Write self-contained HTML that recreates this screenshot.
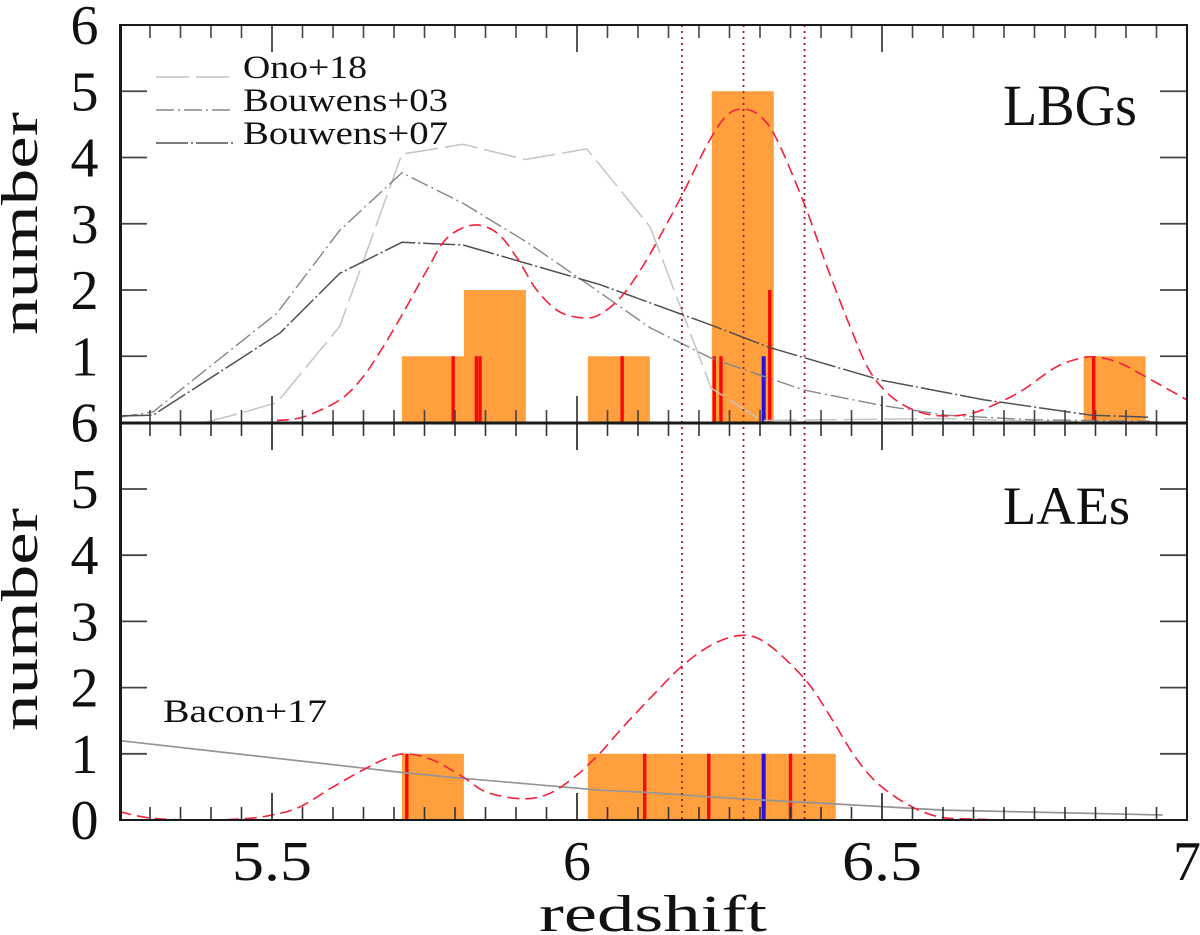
<!DOCTYPE html>
<html>
<head>
<meta charset="utf-8">
<title>Redshift histograms</title>
<style>
html,body{margin:0;padding:0;background:#fff}
svg{display:block}
text{font-family:"Liberation Serif",serif;fill:#111}
</style>
</head>
<body>
<svg id="chart" width="1200" height="935" viewBox="0 0 1200 935" xmlns="http://www.w3.org/2000/svg"></svg>
<script>
// --- data ---
const binStart = 5.713;
const binWidth = 0.1016;
const lbgCounts = [1,2,0,1,0,5,0,0,0,0,0,1];
const laeCounts = [1,0,0,1,1,1,1];
const lbgRedZ = [5.797,5.835,5.841,6.074,6.225,6.236,6.316,6.847];
const lbgRedN = [1,1,1,1,1,1,2,1];
const lbgBlueZ = [6.306];
const lbgBlueN = [1];
const laeRedZ = [5.721,6.111,6.216,6.35];
const laeRedN = [1,1,1,1];
const laeBlueZ = [6.306];
const laeBlueN = [1];
const dottedZ = [6.172,6.273,6.373];

const lbgKdeZ = [5.508,5.551,5.611,5.649,5.682,5.715,5.754,5.787,5.83,5.869,5.902,5.934,5.972,6.016,6.044,6.075,6.107,6.139,6.174,6.215,6.246,6.274,6.302,6.328,6.372,6.41,6.448,6.479,6.516,6.561,6.605,6.649,6.687,6.731,6.782,6.82,6.851,6.889,6.933,7.0];
const lbgKdeN = [0.03,0.083,0.34,0.687,1.14,1.653,2.30,2.785,2.98,2.86,2.48,2.0,1.668,1.577,1.668,1.925,2.347,2.86,3.464,4.219,4.64,4.73,4.61,4.264,3.313,2.347,1.44,0.79,0.385,0.158,0.098,0.143,0.28,0.49,0.82,0.958,0.99,0.9,0.687,0.34];

const laeKdeZ = [5.25,5.3,5.37,5.448,5.5,5.546,5.6,5.649,5.689,5.721,5.764,5.813,5.852,5.911,5.956,6.0,6.026,6.038,6.075,6.12,6.174,6.226,6.274,6.315,6.375,6.416,6.454,6.492,6.543,6.592,6.649,6.731,6.99];
const laeKdeN = [0.125,0.03,0,0.015,0.075,0.2,0.5,0.755,0.935,1.0,0.905,0.65,0.42,0.32,0.405,0.68,0.905,1.01,1.40,1.84,2.34,2.67,2.79,2.64,2.11,1.55,0.98,0.56,0.23,0.05,0.015,0,0];

const onoZ = [5.39,5.448,5.508,5.611,5.713,5.813,5.915,6.016,6.12,6.22,6.302,6.5,6.6,6.75,6.95];
const onoN = [0,0.14,0.3,1.45,4.05,4.2,3.97,4.13,2.95,0.52,0.03,0.05,0.06,0.02,0.01];

const bouwens03Z = [5.25,5.305,5.508,5.611,5.713,5.813,5.918,6.016,6.12,6.22,6.308,6.372,6.498,6.605,6.749,6.939];
const bouwens03N = [0.08,0.16,1.65,2.9,3.77,3.31,2.72,2.1,1.43,0.97,0.69,0.49,0.26,0.11,0.04,0.02];

const bouwens07Z = [5.25,5.305,5.513,5.611,5.713,5.813,5.918,6.038,6.22,6.316,6.498,6.669,6.844,6.936];
const bouwens07N = [0.1,0.11,1.35,2.25,2.72,2.68,2.4,2.08,1.47,1.13,0.64,0.34,0.11,0.08];

const baconZ = [5.25,5.721,5.813,6.038,6.111,6.216,6.306,6.428,6.6,6.96];
const baconN = [1.2,0.71,0.63,0.45,0.42,0.35,0.3,0.24,0.15,0.075];

const xTickLabels = ["5.5","6","6.5","7"];
const yTicksTop = ["6","5","4","3","2","1","6"];
const yTicksBottom = ["5","4","3","2","1","0"];

// --- axes ---
const NS = "http://www.w3.org/2000/svg";
const svg = document.getElementById("chart");
const X = z => 272 + (z - 5.5) * 610;
const Ytop = n => 422.5 - n * 66.25;
const Ybot = n => 820 - n * 66.2;

function mk(tag, attrs, text) {
  const e = document.createElementNS(NS, tag);
  for (const k in attrs) e.setAttribute(k, attrs[k]);
  if (text !== undefined) e.textContent = text;
  svg.appendChild(e);
  return e;
}
function smoothPath(pts) {
  let d = "M" + pts[0][0].toFixed(1) + " " + pts[0][1].toFixed(1);
  for (let i = 0; i < pts.length - 1; i++) {
    const p0 = pts[Math.max(0, i - 1)], p1 = pts[i], p2 = pts[i + 1], p3 = pts[Math.min(pts.length - 1, i + 2)];
    const c1x = p1[0] + (p2[0] - p0[0]) / 6, c1y = p1[1] + (p2[1] - p0[1]) / 6;
    const c2x = p2[0] - (p3[0] - p1[0]) / 6, c2y = p2[1] - (p3[1] - p1[1]) / 6;
    d += "C" + c1x.toFixed(1) + " " + c1y.toFixed(1) + " " + c2x.toFixed(1) + " " + c2y.toFixed(1) + " " + p2[0].toFixed(1) + " " + p2[1].toFixed(1);
  }
  return d;
}
function linePath(pts) {
  return "M" + pts.map(p => p[0].toFixed(1) + " " + p[1].toFixed(1)).join("L");
}
function toPts(zs, ns, Y) { return zs.map((z, i) => [X(z), Y(ns[i])]); }

// histogram bars
function drawBars(counts, Y, name) {
  counts.forEach((c, i) => {
    if (!c) return;
    const z0 = binStart + i * binWidth;
    const r = mk("rect", {x: X(z0), y: Y(c), width: binWidth * 610, height: Y(0) - Y(c), fill: "#ff9f3e"});
    
    
  });
}
drawBars(lbgCounts, Ytop, "lbg-histogram-bar");
drawBars(laeCounts, Ybot, "lae-histogram-bar");

// individual object markers
function drawMarks(zs, ns, Y, color, w, name) {
  zs.forEach((z, i) => {
    const l = mk("line", {x1: X(z), x2: X(z), y1: Y(0), y2: Y(ns[i]), stroke: color, "stroke-width": w});
    
    
  });
}
drawMarks(lbgRedZ, lbgRedN, Ytop, "#f80808", 3.4, "lbg-redshift-marker");
drawMarks(lbgBlueZ, lbgBlueN, Ytop, "#2a10d8", 4, "lbg-blue-marker");
drawMarks(laeRedZ, laeRedN, Ybot, "#f80808", 3.4, "lae-redshift-marker");
drawMarks(laeBlueZ, laeBlueN, Ybot, "#2a10d8", 4, "lae-blue-marker");

// model curves
const ono = mk("path", {d: linePath(toPts(onoZ, onoN, Ytop)), fill: "none", stroke: "#c4c4c4", "stroke-width": 1.5, "stroke-dasharray": "33 7"});


const b03 = mk("path", {d: linePath(toPts(bouwens03Z, bouwens03N, Ytop)), fill: "none", stroke: "#868686", "stroke-width": 1.4, "stroke-dasharray": "18 4 2 4"});


const b07 = mk("path", {d: linePath(toPts(bouwens07Z, bouwens07N, Ytop)), fill: "none", stroke: "#505050", "stroke-width": 1.5, "stroke-dasharray": "32 3 2 3"});


const bacon = mk("path", {d: linePath(toPts(baconZ, baconN, Ybot)), fill: "none", stroke: "#949494", "stroke-width": 1.7});


const kde1 = mk("path", {d: smoothPath(toPts(lbgKdeZ, lbgKdeN, Ytop)), fill: "none", stroke: "#f5203a", "stroke-width": 1.6, "stroke-dasharray": "12 6"});


const kde2 = mk("path", {d: smoothPath(toPts(laeKdeZ, laeKdeN, Ybot)), fill: "none", stroke: "#f5203a", "stroke-width": 1.6, "stroke-dasharray": "12 6"});



// vertical dotted lines
dottedZ.forEach(z => {
  const l = mk("line", {x1: X(z), x2: X(z), y1: 25, y2: 820, stroke: "#a5182e", "stroke-width": 1.8, "stroke-dasharray": "2 4"});
  
  
});

// x ticks
function tick(x1, y1, x2, y2, w, color) {
  const t = mk("line", {x1, y1, x2, y2, stroke: color, "stroke-width": w});
  
  
}
for (let i = 1; i < 35; i++) {
  const z = 5.25 + i * 0.05;
  const major = i % 10 === 5;
  const len = major ? 27 : 13;
  const x = X(z);
  tick(x, 25, x, 25 + len, major ? 1.8 : 1.6, "#444");
  tick(x, 423, x, 423 - len, major ? 1.8 : 1.6, "#444");
  tick(x, 423, x, 423 + len, major ? 1.8 : 1.6, "#333");
  tick(x, 820, x, 820 - len, major ? 1.8 : 1.6, "#333");
}
// y ticks
for (let n = 1; n <= 5; n++) {
  tick(120, Ytop(n), 147, Ytop(n), 1.8, "#444");
  tick(1160, Ytop(n), 1187, Ytop(n), 1.8, "#444");
  tick(120, Ybot(n), 147, Ybot(n), 1.8, "#444");
  tick(1160, Ybot(n), 1187, Ybot(n), 1.8, "#444");
}

// frame
function frame(x1, y1, x2, y2, w, name) {
  const f = mk("line", {x1, y1, x2, y2, stroke: "#1a1a1a", "stroke-width": w});
  
  
}
frame(120.5, 24, 120.5, 821, 3, "left-axis");
frame(1187, 24, 1187, 821, 2, "right-axis");
frame(119, 25, 1188, 25, 2, "top-axis");
frame(119, 423, 1188, 423, 3, "panel-divider-axis");
frame(119, 820, 1188, 820, 2, "bottom-axis");

// tick labels
yTicksTop.forEach((s, i) => {
  const t = mk("text", {x: 98.5, y: Ytop(6 - i) + 19, "text-anchor": "end", "font-size": 56}, s);
  
  
});
yTicksBottom.forEach((s, i) => {
  const t = mk("text", {x: 98.5, y: Ybot(5 - i) + 19, "text-anchor": "end", "font-size": 56}, s);
  
  
});
xTickLabels.forEach(s => {
  const v = parseFloat(s);
  const w = s.length > 1 ? 80 : 28;
  const t = mk("text", {x: X(v) - w / 2 + (s === "7" ? 0 : 0), y: 880, "font-size": 56, textLength: w, lengthAdjust: "spacingAndGlyphs"}, s);
  
  
});

// axis titles
const xTitle = mk("text", {x: 539, y: 931, "font-size": 52, textLength: 228, lengthAdjust: "spacingAndGlyphs"}, "redshift");


const yTitle1 = mk("text", {transform: "translate(37,335) rotate(-90)", "font-size": 52, textLength: 223, lengthAdjust: "spacingAndGlyphs"}, "number");


const yTitle2 = mk("text", {transform: "translate(37,731) rotate(-90)", "font-size": 52, textLength: 223, lengthAdjust: "spacingAndGlyphs"}, "number");



// panel labels
const lbgLabel = mk("text", {x: 1003, y: 125, "font-size": 58, textLength: 134, lengthAdjust: "spacingAndGlyphs"}, "LBGs");


const laeLabel = mk("text", {x: 1003, y: 524, "font-size": 54, textLength: 127, lengthAdjust: "spacingAndGlyphs"}, "LAEs");



// legend
const l1 = mk("line", {x1: 156, x2: 230, y1: 77, y2: 77, stroke: "#c4c4c4", "stroke-width": 1.5, "stroke-dasharray": "33 7"});


const t1 = mk("text", {x: 243, y: 78, "font-size": 33, textLength: 124, lengthAdjust: "spacingAndGlyphs"}, "Ono+18");


const l2 = mk("line", {x1: 156, x2: 233, y1: 110, y2: 110, stroke: "#868686", "stroke-width": 1.4, "stroke-dasharray": "18 4 2 4"});


const t2 = mk("text", {x: 243, y: 111, "font-size": 33, textLength: 205, lengthAdjust: "spacingAndGlyphs"}, "Bouwens+03");


const l3 = mk("line", {x1: 156, x2: 233, y1: 143, y2: 143, stroke: "#505050", "stroke-width": 1.5, "stroke-dasharray": "32 3 2 3"});


const t3 = mk("text", {x: 243, y: 144, "font-size": 33, textLength: 205, lengthAdjust: "spacingAndGlyphs"}, "Bouwens+07");


const t4 = mk("text", {x: 163, y: 722, "font-size": 33, textLength: 164, lengthAdjust: "spacingAndGlyphs"}, "Bacon+17");


</script>
</body>
</html>
